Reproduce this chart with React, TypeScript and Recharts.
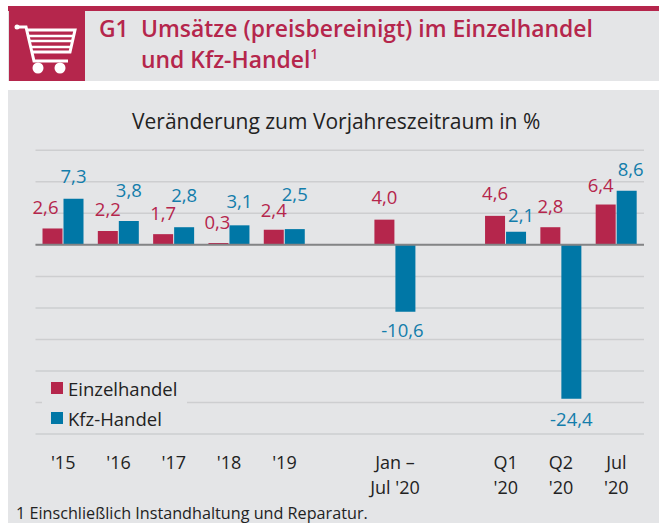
import { BarChart, Bar, XAxis, YAxis, CartesianGrid, LabelList, ReferenceLine } from 'recharts';

const categories = ["'15", "'16", "'17", "'18", "'19", ' ', 'Jan –\nJul \'20', '  ', "Q1\n'20", "Q2\n'20", "Jul\n'20"];
const einzelhandel = [2.6, 2.2, 1.7, 0.3, 2.4, null, 4.0, null, 4.6, 2.8, 6.4];
const kfzHandel = [7.3, 3.8, 2.8, 3.1, 2.5, null, -10.6, null, 2.1, -24.4, 8.6];
const gridTicks = [15, 10, 5, 0, -5, -10, -15, -20, -25, -30];

// hand placed in the original, so each label gets its own nudge [dx, dy]
// (LabelList index skips the empty slots, so these have 9 entries)
const einzelNudge = [[-7, -22], [0, -22], [0, -22], [-1, -21], [0, -20], [0, -23], [0, -23], [0, -22], [-5, -20]];
const kfzNudge = [[0, -23], [0, -31], [0, -33], [0, -25], [0, -36], [-3, 18], [5, -17], [0, 20], [4, -22]];

const RED = '#b5264c';
const BLUE = '#0077a6';
const BLUE_TEXT = '#137dab';
const BG = '#e4e5e7';
const FONT = '"Open Sans", sans-serif';

const data = categories.map((name, i) => ({
  name,
  einzelhandel: einzelhandel[i],
  kfzHandel: kfzHandel[i],
}));

const legendItems = [
  { label: 'Einzelhandel', color: RED },
  { label: 'Kfz-Handel', color: BLUE },
];

function formatValue(v: number) {
  return v.toFixed(1).replace('.', ',');
}

function makeLabel(color: string, nudge: number[][]) {
  return function BarLabel(props: any) {
    const { x, y, width, height, index, value } = props;
    if (value === null || value === undefined) return null;
    const edge = value < 0 ? Math.max(y, y + height) : Math.min(y, y + height);
    const [dx, dy] = nudge[index];
    return (
      <text
        x={x + width / 2 + dx}
        y={edge + dy}
        fill={color}
        fontSize={18.5}
        fontFamily={FONT}
        textAnchor="middle"
        dominantBaseline="central"
      >
        {formatValue(value)}
      </text>
    );
  };
}

function CategoryTick({ x, y, payload }: any) {
  const lines = String(payload.value).trim().split('\n');
  return (
    <text x={x} fill="#222" fontSize={18} fontFamily={FONT} textAnchor="middle">
      {lines.map((line, i) => (
        <tspan key={i} x={x} y={y + 27 + i * 25}>
          {line}
        </tspan>
      ))}
    </text>
  );
}

function CartIcon() {
  return (
    <svg width={76} height={70} viewBox="9 11 76 70" style={{ position: 'absolute', left: 9, top: 11, background: RED }}>
      <g stroke="#fff" fill="none" strokeWidth={2.5}>
        <path d="M17 27 H26 L34 61 H68" strokeWidth={3} />
        <path d="M26 30 H75 L70 52 H31" strokeWidth={3} />
        <path d="M28 36 H73 M29 41 H72 M30 47 H71" />
      </g>
      <circle cx={17} cy={27} r={2.5} fill="#fff" />
      <circle cx={38} cy={68} r={5.5} fill="#fff" />
      <circle cx={60} cy={68} r={5.5} fill="#fff" />
    </svg>
  );
}

export default function App() {
  return (
    <div style={{ position: 'absolute', left: 0, top: 0, width: 659, height: 523, overflow: 'hidden', background: '#fff', fontFamily: FONT }}>
      <div style={{ position: 'absolute', left: 8, top: 6, width: 651, height: 5, background: RED }} />
      <div style={{ position: 'absolute', left: 8, top: 11, width: 651, height: 70, background: BG }} />
      <CartIcon />
      <div style={{ position: 'absolute', left: 8, top: 90, width: 651, height: 433, background: BG }} />

      <div style={{ position: 'absolute', left: 99, top: 13, color: RED, fontSize: 22.9, fontWeight: 600, lineHeight: '31px', whiteSpace: 'nowrap' }}>
        G1
      </div>
      <div style={{ position: 'absolute', left: 141, top: 13, color: RED, fontSize: 22.9, fontWeight: 600, lineHeight: '31px', whiteSpace: 'nowrap' }}>
        Umsätze (preisbereinigt) im Einzelhandel
        <br />
        und Kfz-Handel<sup style={{ fontSize: 14, lineHeight: 0 }}>1</sup>
      </div>

      <div style={{ position: 'absolute', left: 132, width: 407, top: 107, textAlign: 'center', color: '#222', fontSize: 21, lineHeight: '28px', whiteSpace: 'nowrap' }}>
        Veränderung zum Vorjahreszeitraum in %
      </div>

      <div style={{ position: 'absolute', left: 0, top: 0 }}>
        <BarChart
          width={659}
          height={523}
          data={data}
          margin={{ top: 150.3, right: 15, bottom: 88, left: 35.5 }}
          barSize={20}
          barGap={1}
          style={{ background: 'transparent' }}
        >
          <CartesianGrid vertical={false} stroke="#cdced0" strokeWidth={1.5} />
          <XAxis dataKey="name" interval={0} axisLine={false} tickLine={false} tick={<CategoryTick />} height={1} />
          <YAxis hide domain={[-30, 15]} ticks={gridTicks} width={0} />
          <Bar dataKey="einzelhandel" fill={RED} isAnimationActive={false}>
            <LabelList dataKey="einzelhandel" content={makeLabel(RED, einzelNudge)} />
          </Bar>
          <Bar dataKey="kfzHandel" fill={BLUE} isAnimationActive={false}>
            <LabelList dataKey="kfzHandel" content={makeLabel(BLUE_TEXT, kfzNudge)} />
          </Bar>
          <ReferenceLine y={0} stroke="#838486" strokeWidth={2} />
        </BarChart>
      </div>

      <div style={{ position: 'absolute', left: 42, top: 376, width: 145, height: 54, background: BG }} />
      {legendItems.map((item, i) => (
        <div key={item.label} style={{ position: 'absolute', left: 51, top: 376 + i * 30, height: 24, display: 'flex', alignItems: 'center', color: '#222', fontSize: 18.5, whiteSpace: 'nowrap' }}>
          <span style={{ width: 12, height: 12, background: item.color, marginRight: 5, display: 'inline-block' }} />
          {item.label}
        </div>
      ))}

      <div style={{ position: 'absolute', left: 16, top: 502, color: '#222', fontSize: 16.2, lineHeight: '22px', whiteSpace: 'nowrap' }}>
        1 Einschließlich Instandhaltung und Reparatur.
      </div>
    </div>
  );
}
